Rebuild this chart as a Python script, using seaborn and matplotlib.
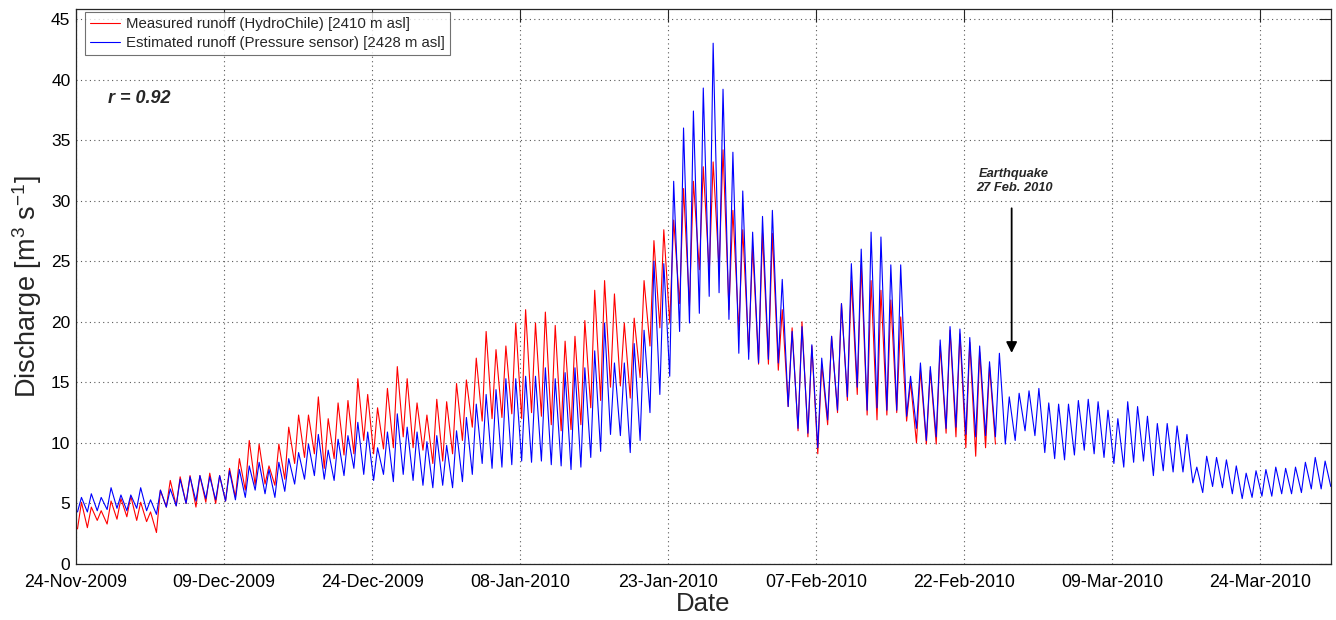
# -*- coding: utf-8 -*-

import numpy as np
import pandas as pd
import matplotlib
matplotlib.use("Agg")
import matplotlib.pyplot as plt
import matplotlib.dates as mdates
import seaborn as sns

sns.set_style("white")
plt.rcParams['font.family'] = ['Liberation Sans', 'DejaVu Sans']
plt.rcParams['mathtext.default'] = 'regular'

START = pd.Timestamp("2009-11-24")
END = pd.Timestamp("2010-03-31 03:00")

# daily peak / trough of the estimated runoff (pressure sensor), m3/s
est_max = [5.5, 5.8, 5.5, 6.3, 5.7, 5.7, 6.3, 5.3, 6.1, 6.2,
           7.0, 7.2, 7.3, 7.2, 7.3, 7.7, 7.8, 8.1, 8.4, 7.8,
           8.4, 8.7, 9.2, 9.9, 10.7, 9.4, 10.3, 10.6, 11.7, 10.9,
           9.6, 10.9, 12.4, 11.3, 10.9, 10.1, 10.6, 9.8, 11.0, 12.1,
           13.2, 14.0, 14.4, 15.3, 15.3, 15.5, 15.5, 16.2, 15.3, 15.8,
           16.2, 16.2, 17.6, 19.9, 16.6, 16.6, 18.2, 19.3, 25.0, 24.8,
           31.6, 36.0, 37.4, 39.3, 43.0, 39.2, 34.0, 30.8, 27.4, 28.7,
           29.2, 23.5, 19.2, 19.6, 18.1, 17.0, 18.8, 21.5, 24.8,
           26.0, 27.4, 27.0, 24.7, 24.7, 15.5, 16.6, 16.3, 18.5, 19.6,
           19.4, 18.7, 18.0, 16.7, 17.4, 13.8, 14.1, 14.3, 14.5, 13.3,
           13.2, 13.2, 13.5, 13.6, 13.4, 12.7, 12.0, 13.4, 13.0, 12.2,
           11.6, 11.6, 11.4, 10.7, 8.0, 8.9, 8.8, 8.6, 8.1, 7.5,
           7.7, 7.8, 8.0, 7.9, 8.0, 8.4, 8.8, 8.5]
est_min = [4.3, 4.3, 4.4, 4.5, 4.6, 4.4, 4.6, 4.4, 4.1, 4.7,
           4.8, 5.0, 5.2, 5.4, 5.3, 5.2, 5.3, 5.5, 6.1, 5.8,
           5.5, 6.0, 6.6, 7.0, 7.3, 7.0, 6.9, 7.3, 7.9, 7.4,
           6.9, 7.4, 6.8, 7.4, 6.9, 6.5, 6.3, 6.5, 6.3, 6.8,
           7.4, 8.3, 7.9, 8.0, 8.2, 8.5, 8.4, 8.5, 8.2, 8.1,
           7.8, 8.0, 8.8, 9.3, 10.7, 10.6, 9.2, 10.2, 12.5, 14.0,
           15.5, 19.2, 19.9, 20.7, 22.1, 22.4, 20.2, 17.4, 16.9, 16.6,
           16.9, 16.6, 13.0, 11.2, 10.8, 9.6, 11.9, 12.7, 13.8,
           14.6, 12.7, 12.9, 12.7, 12.7, 12.2, 11.2, 10.2, 10.5, 11.2,
           11.3, 10.7, 10.5, 10.6, 10.5, 9.9, 10.2, 11.0, 10.6, 9.2,
           8.7, 8.6, 9.0, 9.4, 9.1, 8.8, 8.3, 8.0, 8.4, 8.5,
           7.3, 7.7, 7.6, 7.6, 6.7, 5.9, 6.4, 6.3, 5.8, 5.4,
           5.5, 5.6, 5.6, 5.8, 5.8, 5.9, 6.2, 6.2]
est_last = 6.4

# daily peak / trough of the measured runoff (HydroChile), m3/s
meas_max = [5.1, 4.7, 4.4, 5.2, 5.4, 5.6, 5.1, 4.3, 6.1, 6.9,
            7.2, 7.3, 7.3, 7.5, 7.3, 7.9, 8.7, 10.2, 9.9, 8.1,
            9.9, 11.3, 12.3, 12.3, 13.8, 12.0, 13.3, 13.5, 15.3, 14.0,
            12.9, 14.5, 16.3, 15.3, 13.3, 12.3, 13.6, 13.4, 14.9, 15.2,
            17.0, 19.2, 17.7, 18.0, 19.9, 21.0, 19.9, 20.8, 19.7, 18.4,
            18.8, 20.1, 22.6, 23.4, 22.3, 19.9, 20.3, 23.4, 26.7, 27.6,
            28.4, 31.0, 31.6, 32.8, 33.2, 34.2, 29.2, 27.6, 26.2, 27.3,
            27.3, 21.0, 19.5, 20.0, 18.0, 16.5, 18.8, 21.5, 23.4,
            24.7, 23.4, 22.6, 21.8, 20.4, 15.0, 16.0, 16.0, 18.0, 19.3,
            19.0, 18.3, 17.5, 16.3]
meas_min = [2.9, 3.0, 3.6, 3.3, 3.7, 3.9, 3.6, 3.5, 2.6, 4.7,
            4.8, 5.0, 4.7, 5.1, 5.0, 5.2, 5.5, 6.1, 6.5, 6.6,
            6.5, 7.0, 8.3, 8.8, 9.1, 7.9, 8.7, 9.0, 9.1, 10.2,
            9.1, 9.5, 9.6, 10.5, 9.6, 9.4, 8.3, 8.5, 9.1, 10.2,
            11.3, 11.8, 12.0, 12.1, 12.4, 12.0, 12.5, 12.2, 11.5, 11.0,
            11.1, 11.5, 12.9, 13.5, 14.6, 14.7, 13.7, 15.4, 18.0, 19.5,
            19.9, 21.5, 21.3, 24.3, 24.0, 24.3, 21.0, 19.3, 17.5, 16.5,
            16.5, 16.0, 13.0, 11.0, 10.5, 9.1, 11.5, 12.5, 13.5,
            14.0, 12.3, 11.9, 12.3, 12.5, 11.8, 10.0, 9.9, 9.9, 10.8,
            10.5, 9.6, 8.9, 9.6, 9.9]

r_value = 0.92
quake_date = pd.Timestamp("2010-02-26 19:00")
tick_dates = pd.date_range("2009-11-24", periods=9, freq="15D")


def zigzag(mins, maxs, last=None):
    # morning trough then afternoon peak for every day
    t, v = [], []
    for d, lo in enumerate(mins):
        t.append(START + pd.Timedelta(days=d + 0.15))
        v.append(lo)
        if d < len(maxs):
            t.append(START + pd.Timedelta(days=d + 0.55))
            v.append(maxs[d])
    if last is not None:
        t.append(END)
        v.append(last)
    return pd.DataFrame({"date": t, "runoff": v})


df_meas = zigzag(meas_min, meas_max)
df_est = zigzag(est_min, est_max, est_last)

fig = plt.figure(figsize=(13.36, 6.2), dpi=100)
ax = fig.add_axes([0.0569, 0.0903, 0.9392, 0.8947])

sns.lineplot(data=df_meas, x="date", y="runoff", color=(1, 0, 0), lw=0.8,
             estimator=None, label="Measured runoff (HydroChile) [2410 m asl]", ax=ax)
sns.lineplot(data=df_est, x="date", y="runoff", color=(0, 0, 1), lw=0.8,
             estimator=None, label="Estimated runoff (Pressure sensor) [2428 m asl]", ax=ax)

ax.set_xlim(START, END)
ax.set_ylim(0, 45.8)
ax.set_yticks(np.arange(0, 46, 5))
ax.set_xticks(tick_dates)
ax.xaxis.set_major_formatter(mdates.DateFormatter('%d-%b-%Y'))

ax.grid(True, linestyle=(0, (1, 3)), color='0.35', linewidth=0.8)
for s in ax.spines.values():
    s.set_color('0.15')
    s.set_linewidth(0.9)
ax.tick_params(direction='in', length=9, width=0.8, top=True, right=True,
               colors='0.15', labelcolor='black')
ax.tick_params(axis='y', labelsize=12.5, pad=4)
ax.tick_params(axis='x', labelsize=12.8, pad=7)

ax.set_xlabel("Date", fontsize=18.5, labelpad=1)
ax.set_ylabel("Discharge [m$^3$ s$^{-1}$]", fontsize=19.5, labelpad=5)

leg = ax.legend(loc='upper left', bbox_to_anchor=(0.007, 0.995), fontsize=10.8,
                frameon=True, fancybox=False, edgecolor='0.3', borderpad=0.35,
                handlelength=2.0, handletextpad=0.4, labelspacing=0.3,
                borderaxespad=0.0)
leg.get_frame().set_linewidth(0.8)

ax.text(START + pd.Timedelta(days=3.2), 38.4, "r = %.2f" % r_value,
        fontsize=13, fontweight='bold', style='italic', ha='left', va='center')
ax.text(quake_date + pd.Timedelta(hours=6), 31.6, "Earthquake\n27 Feb. 2010",
        fontsize=9.3, fontweight='bold', style='italic', ha='center', va='center',
        multialignment='center')
ax.annotate("", xy=(quake_date, 17.2), xytext=(quake_date, 29.6),
            arrowprops=dict(arrowstyle='-|>', color='black', lw=1.3, mutation_scale=16))

fig.savefig("out.png", dpi=100)
